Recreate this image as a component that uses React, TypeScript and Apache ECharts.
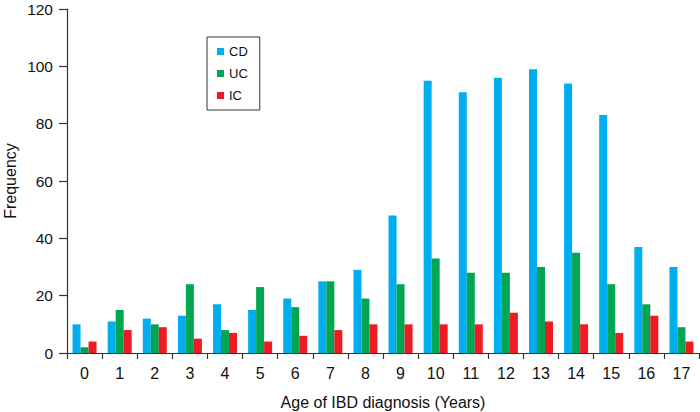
import React, { useEffect, useRef } from "react";
import * as echarts from "echarts";

const categories = ["0","1","2","3","4","5","6","7","8","9","10","11","12","13","14","15","16","17"];
const cdValues = [10, 11, 12, 13, 17, 15, 19, 25, 29, 48, 95, 91, 96, 99, 94, 83, 37, 30];
const ucValues = [2, 15, 10, 24, 8, 23, 16, 25, 19, 24, 33, 28, 28, 30, 35, 24, 17, 9];
const icValues = [4, 8, 9, 5, 7, 4, 6, 8, 10, 10, 10, 10, 14, 11, 10, 7, 13, 4];
const yTicks = [0, 20, 40, 60, 80, 100, 120];

const FONT = "'Liberation Sans', Arial, Helvetica, sans-serif";
const AXIS_COLOR = "#333333";

export default function App() {
  const ref = useRef<HTMLDivElement>(null);
  useEffect(() => {
    if (!ref.current) return;
    const chart = echarts.init(ref.current, undefined, { renderer: "svg" });
    chart.setOption({
      animation: false,
      backgroundColor: "#ffffff",
      textStyle: { fontFamily: FONT },
      grid: { left: 67, right: 1, top: 9, bottom: 59, containLabel: false, outerBoundsMode: "none" },
      legend: {
        orient: "vertical",
        left: 207,
        top: 37,
        data: ["CD", "UC", "IC"],
        icon: "rect",
        itemWidth: 7,
        itemHeight: 7,
        itemGap: 9,
        padding: [8, 12, 8, 10],
        borderColor: "#333333",
        borderWidth: 1,
        textStyle: { fontFamily: FONT, fontSize: 13, color: "#111", padding: [0, 0, 0, 0] },
      },
      xAxis: {
        type: "category",
        data: categories,
        name: "Age of IBD diagnosis (Years)",
        nameLocation: "middle",
        nameGap: 41,
        nameMoveOverlap: false,
        nameTextStyle: { fontFamily: FONT, fontSize: 16, color: "#111" },
        axisLine: { lineStyle: { color: AXIS_COLOR, width: 1.2 } },
        axisTick: { show: true, length: 6, alignWithLabel: false, lineStyle: { color: AXIS_COLOR, width: 1.2 } },
        axisLabel: { fontFamily: FONT, fontSize: 16, color: "#111", margin: 12 },
        splitLine: { show: false },
      },
      yAxis: {
        type: "value",
        min: yTicks[0],
        max: yTicks[yTicks.length - 1],
        interval: 20,
        name: "Frequency",
        nameLocation: "middle",
        nameGap: 49,
        nameRotate: 90,
        nameMoveOverlap: false,
        nameTextStyle: { fontFamily: FONT, fontSize: 16, color: "#111" },
        axisLine: { show: true, lineStyle: { color: AXIS_COLOR, width: 1.2 } },
        axisTick: { show: true, length: 8, lineStyle: { color: AXIS_COLOR, width: 1.2 } },
        axisLabel: { fontFamily: FONT, fontSize: 15.5, color: "#111", margin: 14 },
        splitLine: { show: false },
      },
      series: [
        { name: "CD", type: "bar", data: cdValues, barWidth: 8, barGap: "0%", itemStyle: { color: "#00AEEF" } },
        { name: "UC", type: "bar", data: ucValues, barWidth: 8, barGap: "0%", itemStyle: { color: "#00A651" } },
        { name: "IC", type: "bar", data: icValues, barWidth: 8, barGap: "0%", itemStyle: { color: "#ED1C24" } },
      ],
    });
    return () => chart.dispose();
  }, []);
  return <div ref={ref} style={{ width: 700, height: 412, position: "absolute", left: 0, top: 0 }} />;
}
